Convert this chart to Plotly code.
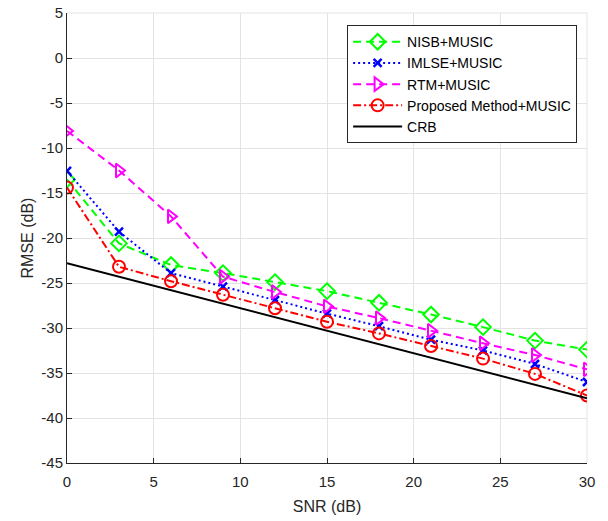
import plotly.graph_objects as go

snr = [0, 3, 6, 9, 12, 15, 18, 21, 24, 27, 30]
nisb = [-13.5, -20.6, -23.0, -23.9, -24.9, -25.9, -27.2, -28.5, -29.9, -31.4, -32.4]
imlse = [-12.55, -19.3, -23.9, -25.4, -26.9, -28.4, -29.8, -31.3, -32.5, -34.0, -36.0]
rtm = [-8.1, -12.5, -17.6, -24.3, -26.0, -27.6, -28.9, -30.3, -31.7, -33.0, -34.6]
proposed = [-14.4, -23.2, -24.8, -26.3, -27.8, -29.3, -30.6, -32.0, -33.4, -35.1, -37.5]
crb_x = [0, 30]
crb = [-22.8, -37.8]
x_ticks = [0, 5, 10, 15, 20, 25, 30]
y_ticks = [5, 0, -5, -10, -15, -20, -25, -30, -35, -40, -45]
y_labels = ["5", "0", "-5", "-10", "-15", "-20", "-25", "-30", "-35", "-40", "-45"]

FONT = "Liberation Sans, Arial, sans-serif"

fig = go.Figure()
fig.add_trace(go.Scatter(x=snr, y=nisb, name="NISB+MUSIC", mode="lines+markers",
    line=dict(color="#00ff00", width=2, dash="8px,5px"),
    marker=dict(symbol="diamond-open", size=12, color="#00ff00", line=dict(width=2))))
fig.add_trace(go.Scatter(x=snr, y=imlse, name="IMLSE+MUSIC", mode="lines+markers",
    line=dict(color="#0000ff", width=2, dash="2px,3px"),
    marker=dict(symbol="x-thin-open", size=8, color="#0000ff", line=dict(width=2.5, color="#0000ff"))))
fig.add_trace(go.Scatter(x=snr, y=rtm, name="RTM+MUSIC", mode="lines+markers",
    line=dict(color="#ff00ff", width=2, dash="8px,5px"),
    marker=dict(symbol="triangle-right-open", size=12, color="#ff00ff", line=dict(width=2))))
fig.add_trace(go.Scatter(x=snr, y=proposed, name="Proposed Method+MUSIC", mode="lines+markers",
    line=dict(color="#ff0000", width=2, dash="8px,3px,2px,3px"),
    marker=dict(symbol="circle-open", size=12, color="#ff0000", line=dict(width=2))))
fig.add_trace(go.Scatter(x=crb_x, y=crb, name="CRB", mode="lines",
    line=dict(color="#000000", width=2)))

fig.update_layout(
    width=608, height=521,
    margin=dict(l=67, r=21, t=13, b=58),
    paper_bgcolor="white", plot_bgcolor="white",
    font=dict(family=FONT, size=15, color="#262626"),
    showlegend=True,
    legend=dict(x=0.981, y=0.973, xanchor="right", yanchor="top",
                bgcolor="white", bordercolor="#262626", borderwidth=1,
                font=dict(size=14, color="#000000"), tracegroupgap=0, itemwidth=49),
    xaxis=dict(range=[0, 30], tickvals=x_ticks,
               showgrid=True, gridcolor="#e3e3e3", gridwidth=1,
               showline=True, linecolor="#262626", linewidth=1,
               ticks="inside", ticklen=5, tickcolor="#262626",
               ticklabelstandoff=5,
               zeroline=False, mirror=False, automargin=False,
               title=dict(text="SNR (dB)", font=dict(size=16), standoff=11)),
    yaxis=dict(range=[-45, 5], tickvals=y_ticks, ticktext=y_labels,
               showgrid=True, gridcolor="#e3e3e3", gridwidth=1,
               showline=True, linecolor="#262626", linewidth=1,
               ticks="inside", ticklen=5, tickcolor="#262626",
               zeroline=False, mirror=False, automargin=False,
               title=dict(text="RMSE (dB)", font=dict(size=16), standoff=3)),
)
fig.add_shape(type="line", xref="paper", yref="paper", x0=0, x1=1, y0=1, y1=1,
              line=dict(color="#e3e3e3", width=1), layer="below")
fig.add_shape(type="line", xref="paper", yref="paper", x0=1, x1=1, y0=0, y1=1,
              line=dict(color="#e3e3e3", width=1), layer="below")

fig.write_html("out.html", config={"displayModeBar": False},
               post_script="document.body.style.margin='0';")
